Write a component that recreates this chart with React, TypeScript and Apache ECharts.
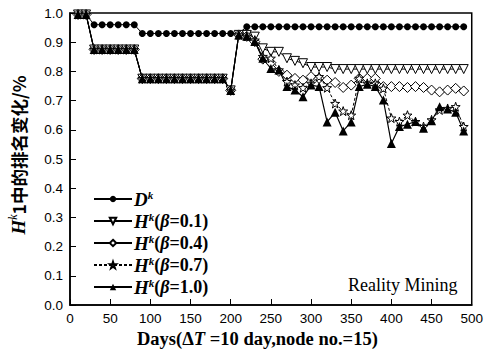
import React, { useEffect, useRef } from "react";
import * as echarts from "echarts";

const days = [10, 20, 30, 40, 50, 60, 70, 80, 90, 100, 110, 120, 130, 140, 150, 160, 170, 180, 190, 200, 210, 220, 230, 240, 250, 260, 270, 280, 290, 300, 310, 320, 330, 340, 350, 360, 370, 380, 390, 400, 410, 420, 430, 440, 450, 460, 470, 480, 490];

const dK = [0.995, 0.995, 0.96, 0.96, 0.96, 0.96, 0.96, 0.96, 0.93, 0.93, 0.93, 0.93, 0.93, 0.93, 0.93, 0.93, 0.93, 0.93, 0.93, 0.93, 0.93, 0.953, 0.953, 0.953, 0.953, 0.953, 0.953, 0.953, 0.953, 0.953, 0.953, 0.953, 0.953, 0.953, 0.953, 0.953, 0.953, 0.953, 0.953, 0.953, 0.953, 0.953, 0.953, 0.953, 0.953, 0.953, 0.953, 0.953, 0.953];

const hB01 = [0.995, 0.995, 0.875, 0.875, 0.875, 0.875, 0.875, 0.875, 0.775, 0.775, 0.775, 0.775, 0.775, 0.775, 0.775, 0.775, 0.775, 0.775, 0.775, 0.735, 0.925, 0.925, 0.919, 0.879, 0.867, 0.867, 0.845, 0.836, 0.828, 0.815, 0.815, 0.815, 0.808, 0.808, 0.808, 0.808, 0.808, 0.808, 0.808, 0.808, 0.808, 0.808, 0.808, 0.808, 0.808, 0.808, 0.808, 0.808, 0.808];

const hB04 = [0.995, 0.995, 0.875, 0.875, 0.875, 0.875, 0.875, 0.875, 0.775, 0.775, 0.775, 0.775, 0.775, 0.775, 0.775, 0.775, 0.775, 0.775, 0.775, 0.735, 0.925, 0.92, 0.902, 0.842, 0.83, 0.80, 0.787, 0.776, 0.770, 0.782, 0.776, 0.770, 0.762, 0.745, 0.753, 0.776, 0.776, 0.776, 0.748, 0.748, 0.748, 0.745, 0.748, 0.745, 0.736, 0.730, 0.736, 0.742, 0.733];

const hB07 = [0.995, 0.995, 0.875, 0.875, 0.875, 0.875, 0.875, 0.875, 0.775, 0.775, 0.775, 0.775, 0.775, 0.775, 0.775, 0.775, 0.775, 0.775, 0.775, 0.735, 0.925, 0.92, 0.907, 0.851, 0.845, 0.805, 0.765, 0.753, 0.744, 0.759, 0.782, 0.744, 0.690, 0.664, 0.650, 0.776, 0.759, 0.759, 0.742, 0.640, 0.628, 0.650, 0.628, 0.611, 0.634, 0.668, 0.673, 0.679, 0.611];

const hB10 = [0.995, 0.995, 0.875, 0.875, 0.875, 0.875, 0.875, 0.875, 0.775, 0.775, 0.775, 0.775, 0.775, 0.775, 0.775, 0.775, 0.775, 0.775, 0.775, 0.735, 0.925, 0.92, 0.902, 0.845, 0.810, 0.805, 0.748, 0.736, 0.713, 0.753, 0.748, 0.627, 0.660, 0.596, 0.627, 0.748, 0.756, 0.748, 0.702, 0.553, 0.611, 0.619, 0.628, 0.605, 0.631, 0.679, 0.671, 0.660, 0.596];

const seriesNames = ["Dk", "H0.1", "H0.4", "H0.7", "H1.0"];
const betaLabels = ["", "0.1", "0.4", "0.7", "1.0"];

const STAR = "path://M0,-10 L2.35,-3.24 L9.51,-3.09 L3.8,1.24 L5.88,8.09 L0,4 L-5.88,8.09 L-3.8,1.24 L-9.51,-3.09 L-2.35,-3.24 Z";

const SERIF = "Liberation Serif";
const SANS = "Liberation Sans";

function pairs(vals: number[]) {
  return days.map((d, i) => [d, vals[i]]);
}

export default function App() {
  const ref = useRef<HTMLDivElement>(null);
  useEffect(() => {
    if (!ref.current) return;
    const chart = echarts.init(ref.current, null, { renderer: "svg" });
    const empty = { color: "#fff", borderColor: "#000", borderWidth: 1 };
    const filled = { color: "#000", borderColor: "#000", borderWidth: 0 };
    chart.setOption({
      animation: false,
      backgroundColor: "#fff",
      grid: {
        left: 70, right: 9, top: 13, bottom: 47,
        show: true, borderColor: "#000", borderWidth: 1.5, backgroundColor: "transparent",
      },
      xAxis: {
        type: "value", min: 0, max: 500, interval: 50,
        axisLine: { show: true, lineStyle: { color: "#000", width: 1.5 } },
        axisTick: { show: true, inside: true, length: 6, lineStyle: { color: "#000", width: 1 } },
        axisLabel: { color: "#000", fontFamily: SANS, fontSize: 13.5, margin: 6 },
        splitLine: { show: false },
      },
      yAxis: {
        type: "value", min: 0, max: 1, interval: 0.1,
        axisLine: { show: true, lineStyle: { color: "#000", width: 1.5 } },
        axisTick: { show: true, inside: true, length: 6, lineStyle: { color: "#000", width: 1 } },
        axisLabel: { color: "#000", fontFamily: SANS, fontSize: 13.5, margin: 7, formatter: (v: number) => v.toFixed(1) },
        splitLine: { show: false },
      },
      legend: {
        orient: "vertical", left: 88, top: 184, itemGap: 2, itemWidth: 38, itemHeight: 8,
        data: seriesNames,
        formatter: (name: string) => {
          const i = seriesNames.indexOf(name);
          if (i === 0) return "{L|D}{k|k}";
          return "{L|H}{k|k}{p|(}{b|β}{p|=" + betaLabels[i] + ")}";
        },
        textStyle: {
          color: "#000", fontFamily: SERIF, fontSize: 18, fontWeight: "bold", lineHeight: 20, padding: [0, 0, 0, -3],
          rich: {
            L: { fontFamily: SERIF, fontSize: 19, fontWeight: "bold", fontStyle: "italic", color: "#000", lineHeight: 20 },
            k: { fontFamily: SERIF, fontSize: 11, fontStyle: "italic", color: "#000", verticalAlign: "top", lineHeight: 20 },
            p: { fontFamily: SERIF, fontSize: 18, fontWeight: "bold", color: "#000", lineHeight: 20 },
            b: { fontFamily: SERIF, fontSize: 18, fontWeight: "bold", fontStyle: "italic", color: "#000", lineHeight: 20 },
          },
        },
      },
      series: [
        {
          name: "Dk", type: "line", data: pairs(dK), symbol: "circle", symbolSize: 7,
          lineStyle: { color: "#000", width: 1 }, itemStyle: filled,
        },
        {
          name: "H0.1", type: "line", data: pairs(hB01), symbol: "triangle", symbolRotate: 180, symbolSize: 9,
          lineStyle: { color: "#000", width: 1 }, itemStyle: empty,
        },
        {
          name: "H0.4", type: "line", data: pairs(hB04), symbol: "diamond", symbolSize: 10,
          lineStyle: { color: "#000", width: 1 }, itemStyle: empty,
        },
        {
          name: "H0.7", type: "line", data: pairs(hB07), symbol: STAR, symbolSize: 9,
          lineStyle: { color: "#000", width: 1, type: [3, 2] }, itemStyle: empty,
        },
        {
          name: "H1.0", type: "line", data: pairs(hB10), symbol: "triangle", symbolSize: 9,
          lineStyle: { color: "#000", width: 1.2 }, itemStyle: filled,
        },
      ],
      graphic: [
        {
          type: "text", left: 137, top: 329,
          style: {
            text: "{n|Days(Δ}{i|T}{n| =10 day,node no.=15)}",
            rich: {
              n: { fontFamily: SERIF, fontSize: 18.5, fontWeight: "bold", fill: "#000" },
              i: { fontFamily: SERIF, fontSize: 18.5, fontWeight: "bold", fontStyle: "italic", fill: "#000" },
            },
          },
        },
        {
          type: "text", x: 18, y: 155, rotation: Math.PI / 2,
          style: {
            text: "{H|H}{k|k}{t|1中的排名变化/%}",
            align: "center", verticalAlign: "middle",
            rich: {
              H: { fontFamily: SERIF, fontSize: 19, fontWeight: "bold", fontStyle: "italic", fill: "#000", lineHeight: 22 },
              k: { fontFamily: SERIF, fontSize: 12, fontStyle: "italic", fill: "#000", verticalAlign: "top", lineHeight: 22 },
              t: { fontFamily: "Noto Sans CJK SC", fontSize: 17.5, fontWeight: "bold", fill: "#000", lineHeight: 22 },
            },
          },
        },
        {
          type: "text", left: 348, top: 276,
          style: { text: "Reality Mining", fontFamily: SERIF, fontSize: 18, fill: "#000" },
        },
      ],
    });
    return () => chart.dispose();
  }, []);
  return <div ref={ref} style={{ width: 486, height: 352, position: "absolute", left: 0, top: 0 }} />;
}
